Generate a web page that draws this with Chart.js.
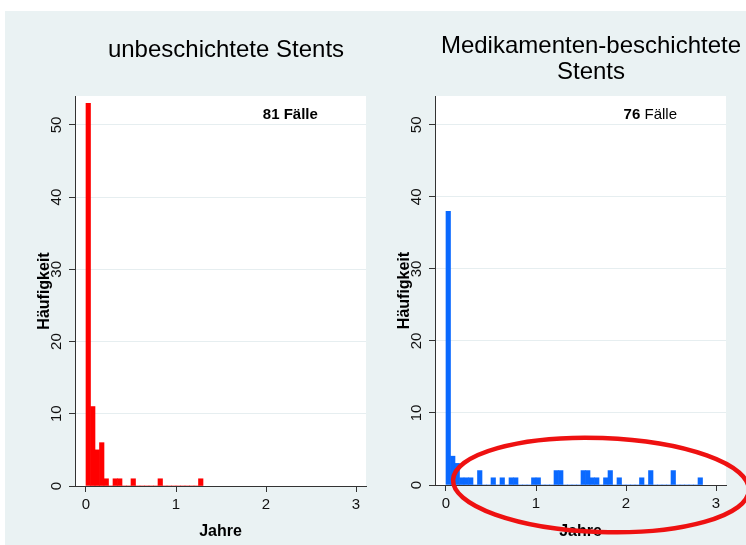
<!DOCTYPE html>
<html>
<head>
<meta charset="utf-8">
<script src="https://cdn.jsdelivr.net/npm/chart.js@4.4.1/dist/chart.umd.min.js"></script>
<style>
  body { margin: 0; width: 746px; height: 545px; overflow: hidden; background: #fff; position: relative; }
  #panel { position: absolute; left: 5px; top: 11px; width: 741px; height: 534px; background: #eaf2f3; }
  canvas { position: absolute; top: 0; }
  #bare { left: 5px; }
  #des { left: 375px; }
</style>
</head>
<body>
<div id="panel"></div>
<canvas id="bare" width="432" height="545"></canvas>
<canvas id="des" width="432" height="545"></canvas>
<script>
// histogram bins of 0.05 years, counts
var binWidth = 0.05;
var yearTicks = [0, 1, 2, 3];
var countTicks = [0, 10, 20, 30, 40, 50];

var bareCounts = [53, 11, 5, 6, 1, 0, 1, 1, 0, 0, 1, 0, 0, 0, 0, 0, 1, 0, 0, 0, 0, 0, 0, 0, 0, 1];
var desCounts = [38, 4, 3, 1, 1, 1, 0, 2, 0, 0, 1, 0, 1, 0, 1, 1, 0, 0, 0, 1,
                 1, 0, 0, 0, 2, 2, 0, 0, 0, 0, 2, 2, 1, 1, 0, 1, 2, 0, 1, 0,
                 0, 0, 0, 1, 0, 2, 0, 0, 0, 0, 2, 0, 0, 0, 0, 0, 1];

var bareTitle = ['unbeschichtete Stents'];
var desTitle = ['Medikamenten-beschichtete', 'Stents'];
var bareNote = [['81', 'bold'], [' Fälle', 'bold']];
var desNote = [['76', 'bold'], [' Fälle', 'normal']];

Chart.defaults.font.family = '"Liberation Sans", Arial, sans-serif';
Chart.defaults.color = '#111';

var plotBg = {
    id: 'plotBg',
    beforeDraw: function (chart) {
        var a = chart.chartArea;
        chart.ctx.save();
        chart.ctx.fillStyle = '#ffffff';
        chart.ctx.fillRect(a.left, a.top, a.right - a.left, a.bottom - a.top);
        chart.ctx.restore();
    }
};

var caseNote = {
    id: 'caseNote',
    afterDatasetsDraw: function (chart, args, opts) {
        var ctx = chart.ctx;
        var parts = opts.parts;
        var cx = chart.scales.x.getPixelForValue(2.27);
        var cy = chart.scales.y.getPixelForValue(51.4);
        ctx.save();
        ctx.textBaseline = 'middle';
        ctx.fillStyle = '#000';
        var total = 0;
        parts.forEach(function (p) {
            ctx.font = p[1] + ' 15px "Liberation Sans", Arial, sans-serif';
            total += ctx.measureText(p[0]).width;
        });
        var x = cx - total / 2;
        parts.forEach(function (p) {
            ctx.font = p[1] + ' 15px "Liberation Sans", Arial, sans-serif';
            ctx.fillText(p[0], x, cy);
            x += ctx.measureText(p[0]).width;
        });
        ctx.restore();
    }
};

// hand drawn red ring over the late events
var ring = {
    id: 'ring',
    afterDraw: function (chart) {
        var ctx = chart.ctx;
        ctx.save();
        ctx.strokeStyle = '#ee1111';
        ctx.lineWidth = 4.5;
        ctx.beginPath();
        ctx.ellipse(226, 485, 148, 47, 0.035, 0, Math.PI * 2);
        ctx.stroke();
        ctx.restore();
    }
};

function histogram(id, counts, color, o) {
    var points = counts.map(function (c, i) {
        return { x: (i + 0.5) * binWidth, y: c };
    });
    return new Chart(document.getElementById(id), {
        type: 'bar',
        data: {
            datasets: [{
                data: points,
                backgroundColor: color,
                borderWidth: 0,
                barPercentage: 1,
                categoryPercentage: 1,
                yAxisID: 'y'
            }]
        },
        options: {
            responsive: false,
            animation: false,
            layout: { padding: { left: o.padLeft, top: 0, right: 0, bottom: 0 } },
            plugins: {
                legend: { display: false },
                tooltip: { enabled: false },
                title: {
                    display: true,
                    text: o.title,
                    color: '#000',
                    font: { size: 24, weight: 'normal', lineHeight: 26 / 24 },
                    padding: o.titlePad
                },
                caseNote: { parts: o.note }
            },
            scales: {
                x: {
                    type: 'linear',
                    offset: false,
                    min: -0.1222,
                    max: 3.111,
                    afterBuildTicks: function (s) { s.ticks = yearTicks.map(function (v) { return { value: v }; }); },
                    afterFit: function (s) { s.height = o.xHeight; },
                    grid: { offset: false, drawOnChartArea: false, tickLength: 6, tickColor: '#333' },
                    border: { color: '#333', z: 1 },
                    ticks: { font: { size: 15 }, padding: 4, maxRotation: 0, autoSkip: false },
                    title: { display: true, text: 'Jahre', color: '#000', font: { size: 16, weight: 'bold' }, padding: { top: 0, bottom: 3.4 } }
                },
                y: {
                    min: 0,
                    max: 54,
                    afterBuildTicks: function (s) { s.ticks = countTicks.map(function (v) { return { value: v }; }); },
                    afterFit: function (s) { s.width = 60; },
                    grid: { color: '#e6eef0', lineWidth: 1, tickLength: 6, tickColor: '#333' },
                    border: { color: '#333', z: 1 },
                    ticks: { font: { size: 15 }, minRotation: 90, maxRotation: 90, crossAlign: 'center', padding: 4, autoSkip: false },
                    title: { display: true, text: 'Häufigkeit', color: '#000', font: { size: 16, weight: 'bold' }, padding: { top: 20, bottom: 0 } }
                },
                yR: {
                    position: 'right',
                    display: true,
                    grid: { display: false },
                    border: { display: false },
                    ticks: { display: false },
                    afterFit: function (s) { s.width = o.rightWidth; }
                }
            }
        },
        plugins: o.extra ? [plotBg, caseNote, o.extra] : [plotBg, caseNote]
    });
}

histogram('bare', bareCounts, '#ff0000', {
    title: bareTitle, note: bareNote, padLeft: 10, rightWidth: 71, xHeight: 59,
    titlePad: { top: 37, bottom: 33 }
});
histogram('des', desCounts, '#0a69ff', {
    title: desTitle, note: desNote, padLeft: 0, rightWidth: 81, xHeight: 60,
    titlePad: { top: 33, bottom: 11 }, extra: ring
});
</script>
</body>
</html>
